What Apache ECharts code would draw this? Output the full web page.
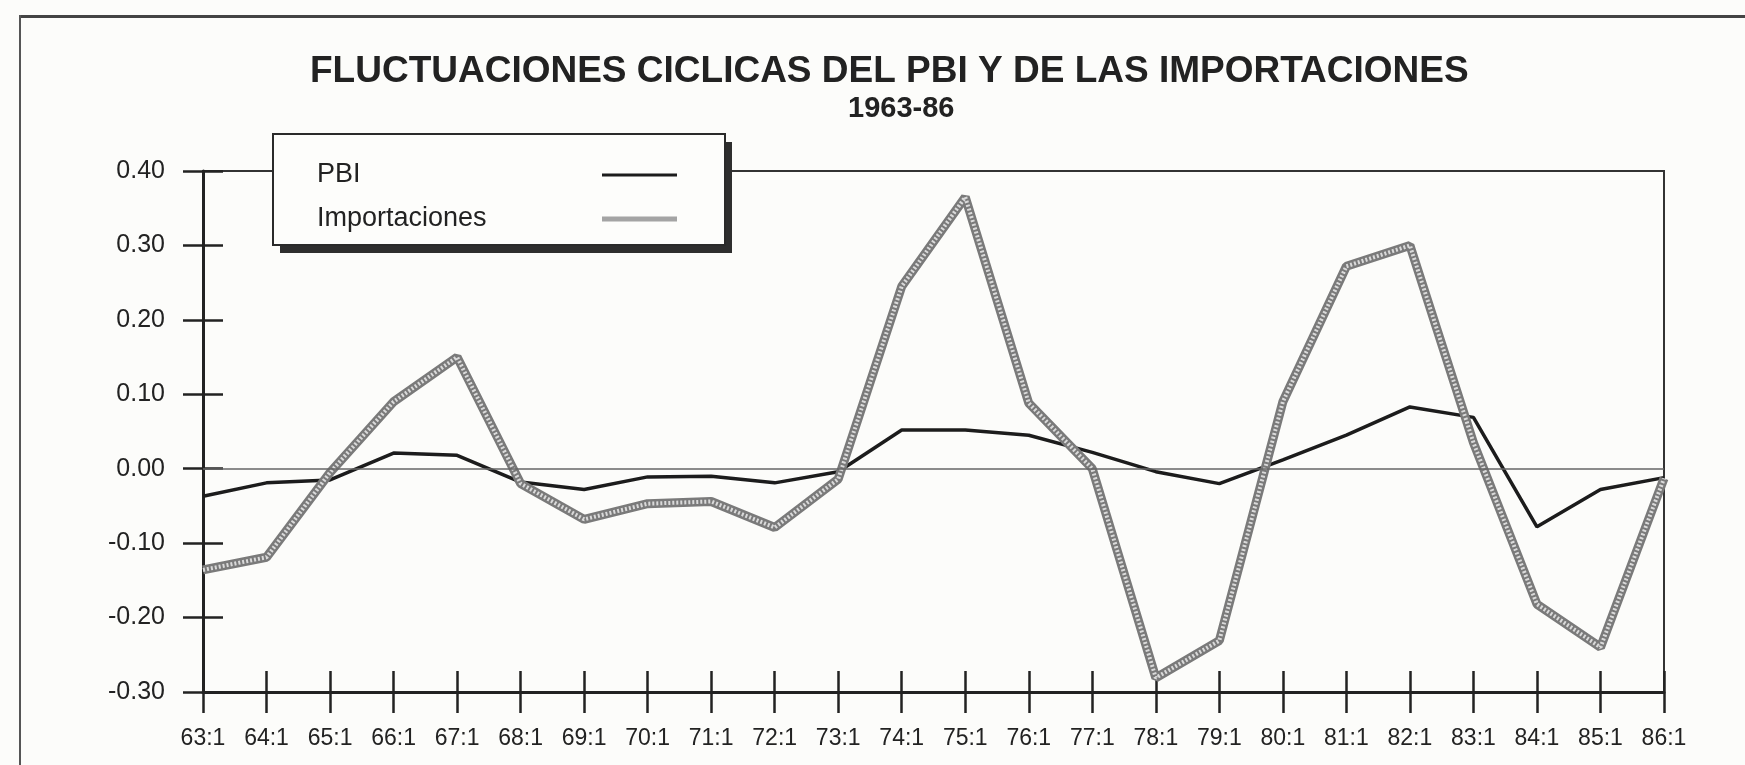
<!DOCTYPE html>
<html>
<head>
<meta charset="utf-8">
<title>Fluctuaciones cíclicas del PBI y de las importaciones</title>
<script src="https://cdn.jsdelivr.net/npm/echarts@6/dist/echarts.min.js"></script>
<style>
html, body { margin: 0; padding: 0; background: #fcfcfa; }
#chart { width: 1745px; height: 765px; }
</style>
</head>
<body>
<div id="chart"></div>
<script>
// datos
var periodos = ['63:1', '64:1', '65:1', '66:1', '67:1', '68:1', '69:1', '70:1', '71:1', '72:1', '73:1', '74:1',
                '75:1', '76:1', '77:1', '78:1', '79:1', '80:1', '81:1', '82:1', '83:1', '84:1', '85:1', '86:1'];
var pbi = [-0.037, -0.019, -0.015, 0.021, 0.018, -0.018, -0.028, -0.011, -0.010, -0.019, -0.004, 0.052,
           0.052, 0.045, 0.022, -0.004, -0.020, 0.012, 0.045, 0.083, 0.069, -0.078, -0.028, -0.012];
var importaciones = [-0.136, -0.119, -0.005, 0.090, 0.150, -0.020, -0.068, -0.047, -0.044, -0.079, -0.014, 0.245,
                     0.365, 0.088, 0.000, -0.281, -0.231, 0.090, 0.272, 0.300, 0.035, -0.182, -0.240, -0.013];
var yMin = -0.3, yMax = 0.4, yPaso = 0.1;

var fuente = "'Liberation Sans', Arial, sans-serif";
var tinta = '#222';

var chart = echarts.init(document.getElementById('chart'));

function etiquetaY(v) {
    if (Math.abs(v) < 1e-9) return '0.00';
    return v.toFixed(2);
}

var option = {
    backgroundColor: '#fcfcfa',
    animation: false,
    title: [
        {
            text: 'FLUCTUACIONES CICLICAS DEL PBI Y DE LAS IMPORTACIONES',
            left: 305, top: 48,
            textStyle: { fontFamily: fuente, fontSize: 37, fontWeight: 'bold', color: tinta }
        },
        {
            text: '1963-86',
            left: 843, top: 89,
            textStyle: { fontFamily: fuente, fontSize: 29, fontWeight: 'bold', color: tinta }
        }
    ],
    legend: {
        data: [
            { name: 'PBI', icon: 'path://M0,0h75v3h-75z', itemStyle: { color: '#1c1c1c' } },
            { name: 'Importaciones', icon: 'path://M0,0h75v5h-75z', itemStyle: { color: '#a4a4a4' } }
        ],
        orient: 'vertical',
        left: 317, top: 160,
        align: 'right',
        padding: 0,
        itemWidth: 75, itemHeight: 14, itemGap: 14,
        selectedMode: false,
        z: 6,
        formatter: '{t|{name}}',
        textStyle: {
            fontFamily: fuente, fontSize: 27, color: tinta, lineHeight: 30,
            rich: { t: { width: 280, align: 'left', fontFamily: fuente, fontSize: 27, color: tinta } }
        }
    },
    grid: {
        left: 203, right: 81, top: 171, bottom: 73,
        show: true, borderColor: '#333', borderWidth: 2,
        backgroundColor: 'transparent'
    },
    xAxis: [
        {
            type: 'category', data: periodos, boundaryGap: false, position: 'bottom',
            axisLine: { onZero: false, lineStyle: { color: tinta, width: 3 } },
            axisTick: { interval: 0, length: 21, lineStyle: { color: tinta, width: 2.5 } },
            axisLabel: { interval: 0, margin: 35, fontFamily: fuente, fontSize: 23, color: tinta },
            splitLine: { show: false }
        },
        {
            type: 'category', data: periodos, boundaryGap: false, position: 'bottom',
            axisLine: { show: false, onZero: false },
            axisTick: { interval: 0, inside: true, length: 21, lineStyle: { color: tinta, width: 2.5 } },
            axisLabel: { show: false },
            splitLine: { show: false }
        }
    ],
    yAxis: [
        {
            type: 'value', min: yMin, max: yMax, interval: yPaso, position: 'left',
            axisLine: { show: true, onZero: false, lineStyle: { color: tinta, width: 3 } },
            axisTick: { show: true, length: 20, lineStyle: { color: tinta, width: 2.5 } },
            axisLabel: { margin: 38, fontFamily: fuente, fontSize: 25, color: tinta, formatter: etiquetaY },
            splitLine: { show: false }
        },
        {
            type: 'value', min: yMin, max: yMax, interval: yPaso, position: 'left',
            axisLine: { show: false, onZero: false },
            axisTick: { show: true, inside: true, length: 20, lineStyle: { color: tinta, width: 2.5 } },
            axisLabel: { show: false },
            splitLine: { show: false }
        }
    ],
    series: [
        {
            name: 'PBI', type: 'line', data: pbi,
            symbol: 'none', z: 2,
            lineStyle: { color: '#1c1c1c', width: 3.5 },
            itemStyle: { color: '#1c1c1c' },
            markLine: {
                silent: true, symbol: 'none', label: { show: false },
                lineStyle: { color: '#666', width: 1.5, type: 'solid' },
                data: [{ yAxis: 0 }]
            }
        },
        {
            name: 'Importaciones', type: 'line', data: importaciones,
            symbol: 'none', z: 3,
            lineStyle: { color: '#7a7a7a', width: 9 },
            itemStyle: { color: '#7a7a7a' }
        },
        {
            // trama clara encima de la linea gris
            name: 'trama', type: 'line', data: importaciones,
            symbol: 'none', z: 4,
            lineStyle: { color: '#dadada', width: 4, type: [2, 2] }
        }
    ],
    graphic: [
        { type: 'rect', shape: { x: 20, y: 15, width: 1725, height: 3 }, style: { fill: '#444' }, silent: true },
        { type: 'rect', shape: { x: 19, y: 15, width: 2, height: 750 }, style: { fill: '#555' }, silent: true },
        // caja de la leyenda con su sombra
        { type: 'rect', z: 5, shape: { x: 280, y: 142, width: 452, height: 111 }, style: { fill: '#2e2e2e' }, silent: true },
        { type: 'rect', z: 5, shape: { x: 273, y: 134, width: 452, height: 111 },
          style: { fill: '#fdfdfb', stroke: '#2a2a2a', lineWidth: 2 }, silent: true }
    ]
};

chart.setOption(option);
</script>
</body>
</html>
